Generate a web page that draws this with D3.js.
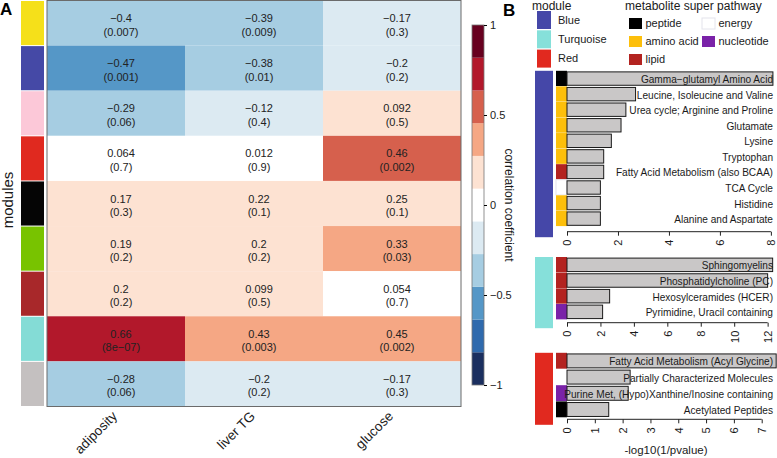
<!DOCTYPE html>
<html><head><meta charset="utf-8">
<script src="https://cdn.jsdelivr.net/npm/d3@7"></script>
<style>body{margin:0;background:#fff} svg{display:block;font-family:"Liberation Sans",Arial,Helvetica,sans-serif}</style>
</head><body>
<svg id="c" width="777" height="458"></svg>
<script>
// ---------- Panel A data ----------
const moduleNames = ["yellow","blue","pink","red","black","greenyellow","brown","turquoise","grey"];
const moduleColors = ["#f5e01a","#4549a6","#fcc8d8","#e0291f","#050505","#78c300","#a8282a","#84dcd6","#c4c0c0"];
const traits = ["adiposity","liver TG","glucose"];
const corrAdiposity = [-0.4,-0.47,-0.29,0.064,0.17,0.19,0.2,0.66,-0.28];
const pAdiposity = ["0.007","0.001","0.06","0.7","0.3","0.2","0.2","8e-07","0.06"];
const corrLiverTG = [-0.39,-0.38,-0.12,0.012,0.22,0.2,0.099,0.43,-0.2];
const pLiverTG = ["0.009","0.01","0.4","0.9","0.1","0.2","0.5","0.003","0.2"];
const corrGlucose = [-0.17,-0.2,0.092,0.46,0.25,0.33,0.054,0.45,-0.17];
const pGlucose = ["0.3","0.2","0.5","0.002","0.1","0.03","0.7","0.002","0.3"];
const colorbarTicks = [1,0.5,0,-0.5,-1];
const corrPalette = ["#1b2f5f","#2f6aad","#5597c7","#a6cde2","#dceaf2","#ffffff","#fde2d2","#f5a784","#d6604d","#b2182b","#67001f"];

// ---------- Panel B data ----------
const legendModules = ["Blue","Turquoise","Red"];
const legendModuleColors = ["#4547a8","#86e0da","#e1291f"];
const pathways = ["peptide","amino acid","lipid","energy","nucleotide"];
const pathwayColors = ["#000000","#fdbf0b","#b32320","#ffffff","#7a22a8"];

const blueLabels = ["Gamma-glutamyl Amino Acid","Leucine, Isoleucine and Valine","Urea cycle; Arginine and Proline","Glutamate","Lysine","Tryptophan","Fatty Acid Metabolism (also BCAA)","TCA Cycle","Histidine","Alanine and Aspartate"];
const blueValues = [8.08,2.69,2.31,2.12,1.74,1.44,1.44,1.31,1.31,1.31];
const bluePathways = ["peptide","amino acid","amino acid","amino acid","amino acid","amino acid","lipid","energy","amino acid","amino acid"];
const blueTicks = [0,2,4,6,8];
const blueLimit = 8.24;

const turqLabels = ["Sphingomyelins","Phosphatidylcholine (PC)","Hexosylceramides (HCER)","Pyrimidine, Uracil containing"];
const turqValues = [12.3,12.0,2.55,2.13];
const turqPathways = ["lipid","lipid","lipid","nucleotide"];
const turqTicks = [0,2,4,6,8,10,12];
const turqLimit = 12.56;

const redLabels = ["Fatty Acid Metabolism (Acyl Glycine)","Partially Characterized Molecules","Purine Met, (Hypo)Xanthine/Inosine containing","Acetylated Peptides"];
const redValues = [7.52,2.27,2.2,1.5];
const redPathways = ["lipid",null,"nucleotide","peptide"];
const redTicks = [0,1,2,3,4,5,6,7];
const redLimit = 7.55;

const minus = s => String(s).replace(/-/g, "\u2212");

const svg = d3.select("#c");
const TXT = "#1a1a1a";

// ---------- Panel A ----------
const rows = d3.range(moduleNames.length);
const x = d3.scaleBand().domain(traits).range([47, 461]);
const y = d3.scaleBand().domain(rows).range([0.5, 406.5]);
const color = d3.scaleQuantize().domain([-1, 1]).range(corrPalette);

const cells = [];
const corrs = [corrAdiposity, corrLiverTG, corrGlucose];
const pv = [pAdiposity, pLiverTG, pGlucose];
traits.forEach((t, j) => rows.forEach(i => cells.push({t, i, r: corrs[j][i], p: pv[j][i]})));

const gA = svg.append("g");
gA.selectAll("rect.cell").data(cells).join("rect")
  .attr("x", d => x(d.t)).attr("y", d => y(d.i))
  .attr("width", x.bandwidth()).attr("height", y.bandwidth())
  .attr("fill", d => color(d.r));
gA.append("rect").attr("x", 47).attr("y", 0.5).attr("width", 414).attr("height", 406)
  .attr("fill", "none").attr("stroke", "#6b6b6b").attr("stroke-width", 1);

const tg = gA.selectAll("g.lab").data(cells).join("g")
  .attr("transform", d => `translate(${x(d.t) + x.bandwidth()/2 + 5},${y(d.i) + y.bandwidth()/2})`);
tg.append("text").attr("y", -1).attr("text-anchor", "middle").attr("font-size", 11).attr("fill", "#222")
  .text(d => minus(d.r));
tg.append("text").attr("y", 12.5).attr("text-anchor", "middle").attr("font-size", 11).attr("fill", "#222")
  .text(d => "(" + minus(d.p) + ")");

// module strip
gA.selectAll("rect.mod").data(rows).join("rect")
  .attr("x", 21).attr("y", i => y(i) + 0.5).attr("width", 23).attr("height", y.bandwidth() - 1)
  .attr("fill", i => moduleColors[i]);

// column labels
gA.selectAll("text.col").data(traits).join("text")
  .attr("transform", d => `translate(${x(d) + x.bandwidth()/2 + 2},417) rotate(-45)`)
  .attr("text-anchor", "end").attr("font-size", 13.5).attr("fill", TXT).text(d => d);

gA.append("text").attr("transform", "translate(13,200) rotate(-90)")
  .attr("text-anchor", "middle").attr("font-size", 15).attr("fill", TXT).text("modules");

svg.append("text").attr("x", 0).attr("y", 15).attr("font-size", 17).attr("font-weight", "bold").attr("fill", "#000").text("A");
svg.append("text").attr("x", 503).attr("y", 16).attr("font-size", 17).attr("font-weight", "bold").attr("fill", "#000").text("B");

// colorbar
const cb = d3.scaleLinear().domain([1, -1]).range([25, 385]);
const bins = color.range().map((c, k) => ({c, lo: -1 + k * 2/11, hi: -1 + (k + 1) * 2/11}));
svg.selectAll("rect.cb").data(bins).join("rect")
  .attr("x", 472).attr("width", 12)
  .attr("y", d => cb(d.hi)).attr("height", d => cb(d.lo) - cb(d.hi))
  .attr("fill", d => d.c);
svg.append("rect").attr("x", 472).attr("y", 25).attr("width", 12).attr("height", 360)
  .attr("fill", "none").attr("stroke", "#777").attr("stroke-width", 0.8);
const cbAxis = svg.append("g").attr("transform", "translate(484,0)")
  .call(d3.axisRight(cb).tickValues(colorbarTicks).tickSize(3).tickFormat(d => minus(d)));
cbAxis.select(".domain").remove();
cbAxis.selectAll("line").attr("stroke", "#000");
cbAxis.selectAll("text").attr("font-size", 11).attr("fill", TXT).attr("x", 6)
  .style("font-family", "'Liberation Sans',Arial,sans-serif");
svg.append("text").attr("transform", "translate(505,205) rotate(90)")
  .attr("text-anchor", "middle").attr("font-size", 12).attr("fill", TXT).text("correlation coefficient");

// ---------- Panel B legend ----------
svg.append("text").attr("x", 532).attr("y", 10).attr("font-size", 12).attr("fill", TXT).text("module");
svg.append("text").attr("x", 625).attr("y", 10).attr("font-size", 12).attr("fill", TXT).text("metabolite super pathway");
const ml = svg.selectAll("g.ml").data(legendModules).join("g")
  .attr("transform", (d, i) => `translate(537,${11 + i * 19.3})`);
ml.append("rect").attr("width", 14).attr("height", 18).attr("fill", (d, i) => legendModuleColors[i]);
ml.append("text").attr("x", 21).attr("y", 9).attr("dy", "0.35em").attr("font-size", 11).attr("fill", TXT).text(d => d);

const pl = svg.selectAll("g.pl").data(pathways).join("g")
  .attr("transform", (d, i) => `translate(${i < 3 ? 629 : 702},${18 + (i < 3 ? i : i - 3) * 18})`);
pl.append("rect").attr("width", 13).attr("height", 11).attr("fill", (d, i) => pathwayColors[i])
  .attr("stroke", (d, i) => pathwayColors[i] === "#ffffff" ? "#e4e4ec" : "none");
pl.append("text").attr("x", 16.5).attr("y", 5.5).attr("dy", "0.35em").attr("font-size", 11).attr("fill", TXT).text(d => d);

// ---------- Panel B bars ----------
const pathColor = p => pathwayColors[pathways.indexOf(p)];
const panels = [
  {labels: blueLabels, values: blueValues, paths: bluePathways, ticks: blueTicks, limit: blueLimit, mod: legendModuleColors[0], top: 70.8, step: 15.56, axisY: 231.7},
  {labels: turqLabels, values: turqValues, paths: turqPathways, ticks: turqTicks, limit: turqLimit, mod: legendModuleColors[1], top: 257, step: 15.67, axisY: 322.7},
  {labels: redLabels, values: redValues, paths: redPathways, ticks: redTicks, limit: redLimit, mod: legendModuleColors[2], top: 352.8, step: 16.2, axisY: 419.3}
];
panels.forEach(P => {
  const g = svg.append("g");
  const xs = d3.scaleLinear().domain([0, P.limit]).range([567, 777]);
  const ys = d3.scaleBand().domain(P.labels).range([P.top, P.top + P.step * P.labels.length])
    .paddingInner(0.14).paddingOuter(0.07);
  g.append("rect").attr("x", 535).attr("y", P.top).attr("width", 18).attr("height", P.axisY + 5.5 - P.top)
    .attr("fill", P.mod);
  const rowsB = P.labels.map((l, i) => ({l, v: P.values[i], p: P.paths[i]}));
  g.selectAll("rect.cat").data(rowsB.filter(d => d.p)).join("rect")
    .attr("x", 556).attr("width", 11)
    .attr("y", d => ys(d.l) - ys.step() * 0.07).attr("height", ys.step() * 0.98)
    .attr("fill", d => pathColor(d.p))
    .attr("stroke", d => d.p === "energy" ? "#e4e4ec" : "none");
  g.selectAll("rect.bar").data(rowsB).join("rect")
    .attr("x", xs(0)).attr("y", d => ys(d.l))
    .attr("width", d => xs(d.v) - xs(0)).attr("height", ys.bandwidth())
    .attr("fill", "#c9c7c7").attr("stroke", "#1a1a1a").attr("stroke-width", 1);
  g.selectAll("text.bl").data(rowsB).join("text")
    .attr("x", 773).attr("y", d => ys(d.l) + ys.bandwidth()/2 + 1).attr("dy", "0.35em")
    .attr("text-anchor", "end").attr("font-size", 10.1).attr("fill", TXT)
    .text(d => minus(d.l));
  const ax = g.append("g").attr("transform", `translate(0,${P.axisY})`)
    .call(d3.axisBottom(xs).tickValues(P.ticks).tickSize(4));
  ax.select(".domain").remove();
  ax.selectAll("line").attr("stroke", "#222");
  ax.append("line").attr("x1", xs(0)).attr("x2", xs(P.ticks[P.ticks.length - 1])).attr("stroke", "#222");
  ax.selectAll("text").attr("font-size", 11).attr("fill", TXT)
    .style("font-family", "'Liberation Sans',Arial,sans-serif")
    .attr("text-anchor", "end").attr("transform", "rotate(-90)")
    .attr("x", -8).attr("y", 0).attr("dy", "0.35em");
});
svg.append("text").attr("x", 666).attr("y", 454).attr("text-anchor", "middle").attr("font-size", 11.5)
  .attr("fill", TXT).text("-log10(1/pvalue)");
</script>
</body></html>
